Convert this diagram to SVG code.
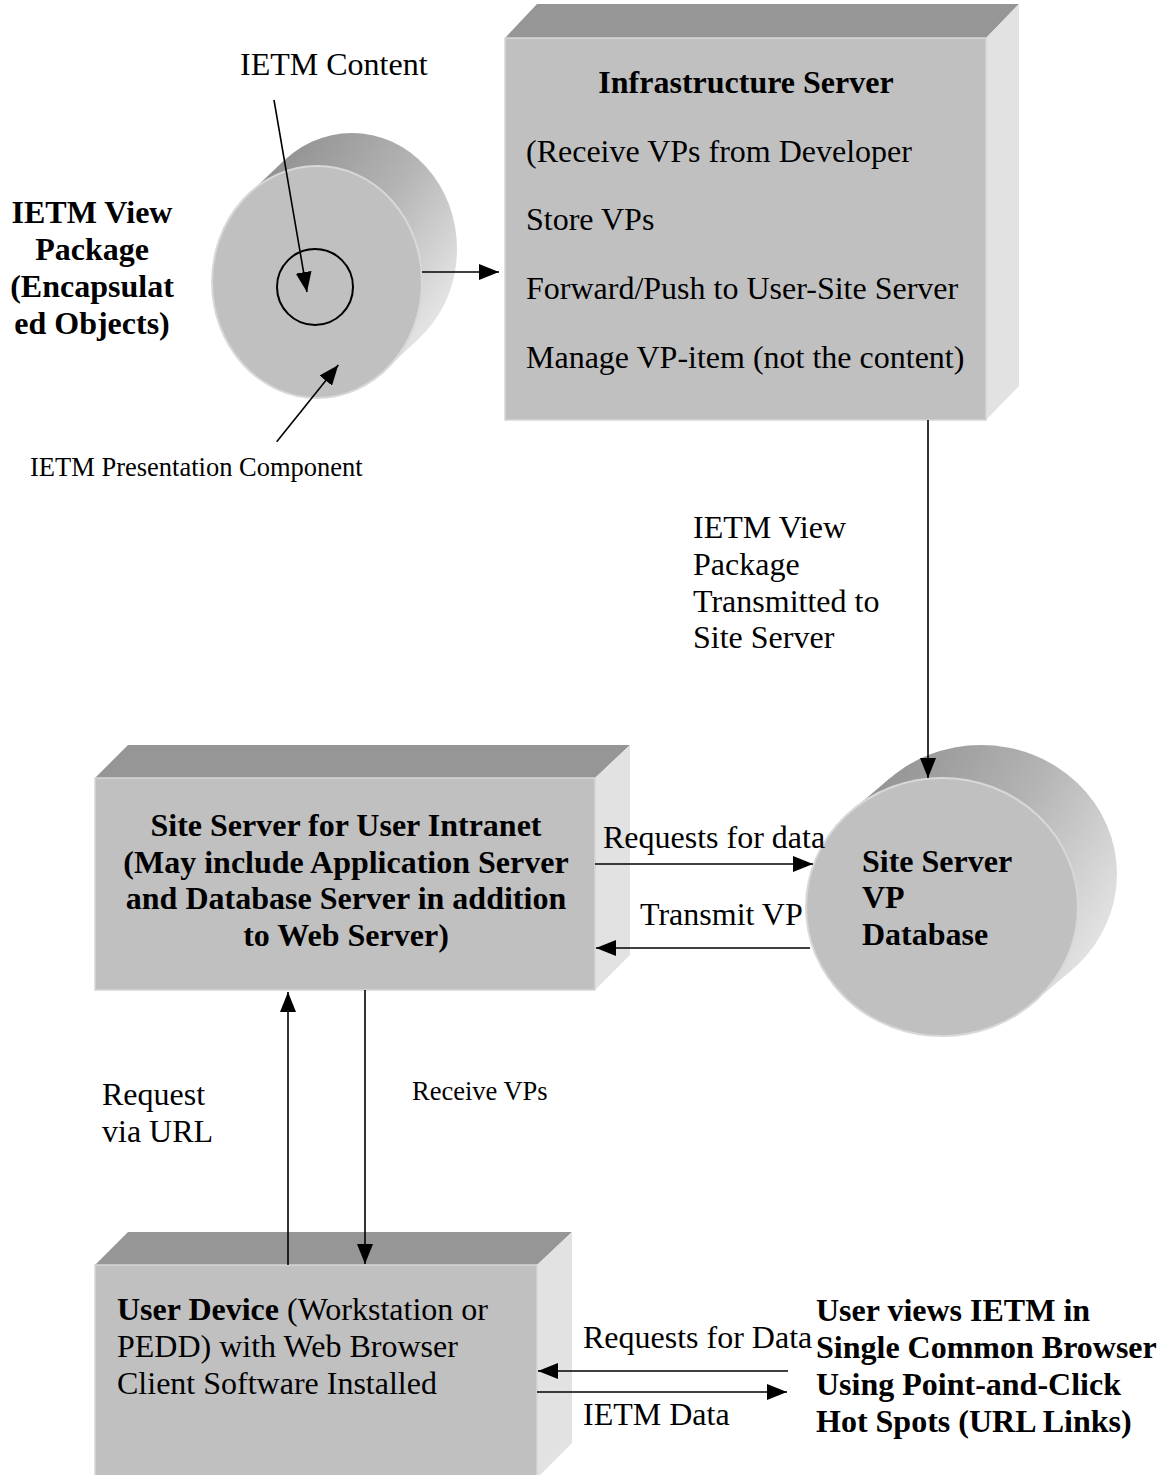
<svg xmlns="http://www.w3.org/2000/svg" width="1163" height="1475" viewBox="0 0 1163 1475">
<style>
  text { font-family: "Liberation Serif", "Times New Roman", serif; fill: #000; }
  .t32 { font-size: 32px; }
  .t27 { font-size: 26.5px; }
  .b { font-weight: bold; }
  .mid { text-anchor: middle; }
  .top { fill: #969696; }
  .front { fill: #c0c0c0; stroke: #d6d6d6; stroke-width: 1.5; }
  .side { fill: #e2e2e2; }
  .cylfront { fill: #c0c0c0; stroke: #d8d8d8; stroke-width: 2; }
  .conn { stroke: #000; stroke-width: 1.6; fill: none; }
</style>
<defs>
  <marker id="arr" markerUnits="userSpaceOnUse" markerWidth="20" markerHeight="16" refX="20" refY="8" orient="auto">
    <path d="M0,0 L20,8 L0,16 Z" fill="#000"/>
  </marker>
  <linearGradient id="g1" gradientUnits="userSpaceOnUse" x1="250" y1="150" x2="455" y2="300">
    <stop offset="0" stop-color="#8a8a8a"/>
    <stop offset="0.55" stop-color="#b4b4b4"/>
    <stop offset="1" stop-color="#e6e6e6"/>
  </linearGradient>
  <linearGradient id="g2" gradientUnits="userSpaceOnUse" x1="840" y1="760" x2="1118" y2="930">
    <stop offset="0" stop-color="#8a8a8a"/>
    <stop offset="0.55" stop-color="#b4b4b4"/>
    <stop offset="1" stop-color="#e6e6e6"/>
  </linearGradient>
</defs>

<g id="view-package">
  <ellipse cx="352" cy="249" rx="105" ry="116" fill="url(#g1)"/>
  <polygon points="385.2,370.2 420.2,337.2 283.8,160.8 248.8,193.8" fill="url(#g1)"/>
  <ellipse class="cylfront" cx="317" cy="282" rx="105" ry="116"/>
  <circle cx="315" cy="287" r="38" fill="none" stroke="#000" stroke-width="2"/>
  <text class="t32 b mid" x="92" y="223">IETM View</text>
  <text class="t32 b mid" x="92" y="260">Package</text>
  <text class="t32 b mid" x="92" y="297">(Encapsulat</text>
  <text class="t32 b mid" x="92" y="334">ed Objects)</text>
</g>

<g id="ietm-content-label">
  <text class="t32" x="240" y="75">IETM Content</text>
</g>
<g id="ietm-presentation-label">
  <text class="t27" x="30" y="476">IETM Presentation Component</text>
</g>

<g id="infrastructure-server">
  <polygon class="top" points="505,38 537,4 1019,4 986,38"/>
  <polygon class="side" points="986,38 1019,4 1019,386 986,420"/>
  <rect class="front" x="505" y="38" width="481" height="382"/>
  <text class="t32 b mid" x="746" y="93">Infrastructure Server</text>
  <text class="t32" x="526" y="162">(Receive VPs from Developer</text>
  <text class="t32" x="526" y="230">Store VPs</text>
  <text class="t32" x="526" y="299">Forward/Push to User-Site Server</text>
  <text class="t32" x="526" y="368">Manage VP-item (not the content)</text>
</g>

<g id="site-server">
  <polygon class="top" points="95,778 128,745 630,745 595,778"/>
  <polygon class="side" points="595,778 630,745 630,955 595,990"/>
  <rect class="front" x="95" y="778" width="500" height="212"/>
  <text class="t32 b mid" x="346" y="836">Site Server for User Intranet</text>
  <text class="t32 b mid" x="346" y="873">(May include Application Server</text>
  <text class="t32 b mid" x="346" y="909">and Database Server in addition</text>
  <text class="t32 b mid" x="346" y="946">to Web Server)</text>
</g>

<g id="vp-database">
  <ellipse cx="981" cy="874" rx="136" ry="129" fill="url(#g2)"/>
  <polygon points="1032.5,1003.3 1071.5,970.3 890.5,777.7 851.5,810.7" fill="url(#g2)"/>
  <ellipse class="cylfront" cx="942" cy="907" rx="136" ry="129"/>
  <text class="t32 b" x="862" y="872">Site Server</text>
  <text class="t32 b" x="862" y="908">VP</text>
  <text class="t32 b" x="862" y="945">Database</text>
</g>

<g id="user-device">
  <polygon class="top" points="95,1265 128,1232 572,1232 537,1265"/>
  <polygon class="side" points="537,1265 572,1232 572,1443 537,1478"/>
  <rect class="front" x="95" y="1265" width="442" height="215"/>
  <text class="t32" x="117" y="1320"><tspan class="b">User Device</tspan> (Workstation or</text>
  <text class="t32" x="117" y="1357">PEDD) with Web Browser</text>
  <text class="t32" x="117" y="1394">Client Software Installed</text>
</g>

<g id="user-views">
  <text class="t32 b" x="816" y="1321">User views IETM in</text>
  <text class="t32 b" x="816" y="1358">Single Common Browser</text>
  <text class="t32 b" x="816" y="1395">Using Point-and-Click</text>
  <text class="t32 b" x="816" y="1432">Hot Spots (URL Links)</text>
</g>

<g id="connectors">
  <line class="conn" x1="274" y1="100" x2="307" y2="292" marker-end="url(#arr)"/>
  <line class="conn" x1="276.7" y1="441.7" x2="338.3" y2="365" marker-end="url(#arr)"/>
  <line class="conn" x1="422" y1="272" x2="499" y2="272" marker-end="url(#arr)"/>
  <line class="conn" x1="928" y1="420" x2="928" y2="778" marker-end="url(#arr)"/>
  <line class="conn" x1="595" y1="864" x2="813" y2="864" marker-end="url(#arr)"/>
  <line class="conn" x1="810" y1="948" x2="596" y2="948" marker-end="url(#arr)"/>
  <line class="conn" x1="288" y1="1265" x2="288" y2="992" marker-end="url(#arr)"/>
  <line class="conn" x1="365" y1="990" x2="365" y2="1264" marker-end="url(#arr)"/>
  <line class="conn" x1="788" y1="1371" x2="538" y2="1371" marker-end="url(#arr)"/>
  <line class="conn" x1="537" y1="1392" x2="787" y2="1392" marker-end="url(#arr)"/>
  <text class="t32" x="693" y="538">IETM View</text>
  <text class="t32" x="693" y="575">Package</text>
  <text class="t32" x="693" y="612">Transmitted to</text>
  <text class="t32" x="693" y="648">Site Server</text>
  <text class="t32" x="603" y="848">Requests for data</text>
  <text class="t32" x="640" y="925">Transmit VP</text>
  <text class="t32" x="102" y="1105">Request</text>
  <text class="t32" x="102" y="1142">via URL</text>
  <text class="t27" x="412" y="1100">Receive VPs</text>
  <text class="t32" x="583" y="1348">Requests for Data</text>
  <text class="t32" x="583" y="1425">IETM Data</text>
</g>
</svg>
